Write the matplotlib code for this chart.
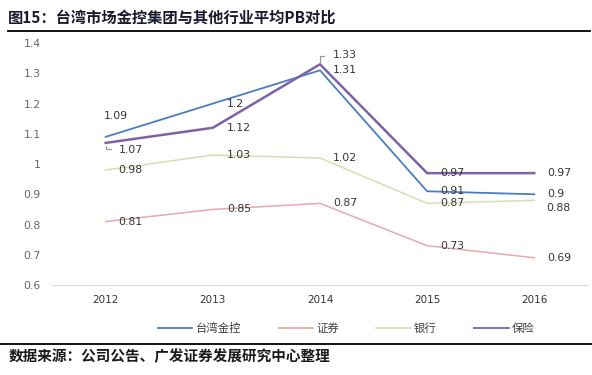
import matplotlib
matplotlib.use('Agg')
import matplotlib.pyplot as plt
from matplotlib.lines import Line2D

plt.rcParams['font.family'] = ['Noto Sans CJK SC', 'DejaVu Sans']

years = ['2012', '2013', '2014', '2015', '2016']
taiwan_fh = [1.09, 1.20, 1.31, 0.91, 0.90]
securities = [0.81, 0.85, 0.87, 0.73, 0.69]
banks = [0.98, 1.03, 1.02, 0.87, 0.88]
insurance = [1.07, 1.12, 1.33, 0.97, 0.97]
series_names = ['台湾金控', '证券', '银行', '保险']
y_ticks = [0.6, 0.7, 0.8, 0.9, 1.0, 1.1, 1.2, 1.3, 1.4]
y_tick_labels = ['0.6', '0.7', '0.8', '0.9', '1', '1.1', '1.2', '1.3', '1.4']

colors = ['#4a7ebb', '#e8a9a9', '#d3e1b2', '#7f62a6']
widths = [1.3, 1.1, 1.1, 1.8]

fig = plt.figure(figsize=(5.92, 3.75), dpi=100)
ax = fig.add_axes([0.088, 0.24, 0.905, 0.645])

x = list(range(len(years)))
all_series = [taiwan_fh, securities, banks, insurance]
for vals, name, c, lw in zip(all_series, series_names, colors, widths):
    ax.plot(x, vals, color=c, lw=lw, label=name, solid_joinstyle='miter')

# label offsets in pixels (default: right of point)
special = {
    (0, 0): (-2, 21),
    (3, 0): (13, -7),
    (3, 2): (13, 9),
    (2, 4): (12, -8),
}
for si, vals in enumerate(all_series):
    for i, v in enumerate(vals):
        dx, dy = special.get((si, i), (13 if i != 1 else 14, 0))
        txt = ('%.2f' % v).rstrip('0').rstrip('.')
        ax.annotate(txt, (i, v), xytext=(dx, dy), textcoords='offset pixels',
                    ha='left', va='center', fontsize=7.8, color='#333333',
                    family='DejaVu Sans')

# leader lines for crowded labels
ax.annotate('', (0, 1.07), xytext=(8, -6), textcoords='offset pixels',
            arrowprops=dict(arrowstyle='-', color='#999999', lw=0.9,
                            connectionstyle='angle,angleA=0,angleB=90,rad=0'))
ax.annotate('', (2, 1.33), xytext=(7, 8), textcoords='offset pixels',
            arrowprops=dict(arrowstyle='-', color='#999999', lw=0.9,
                            connectionstyle='angle,angleA=0,angleB=90,rad=0'))

ax.set_xlim(-0.5, 4.5)
ax.set_ylim(0.6, 1.4)
ax.set_xticks(x)
ax.set_xticklabels(years, fontsize=7.5, color='#333333', family='DejaVu Sans')
ax.set_yticks(y_ticks)
ax.set_yticklabels(y_tick_labels, fontsize=7.8, color='#666666', family='DejaVu Sans')
ax.tick_params(length=0, pad=8)
ax.tick_params(axis='x', pad=7)
for s in ['top', 'right', 'left']:
    ax.spines[s].set_visible(False)
ax.spines['bottom'].set_color('#d9d9d9')

handles = [Line2D([0], [0], color=c, lw=1.3) for c in colors]
fig.legend(handles, series_names, loc='center', bbox_to_anchor=(0.585, 0.123),
           ncol=4, frameon=False, fontsize=8.2, handlelength=3.0,
           handletextpad=0.3, columnspacing=3.3, labelcolor='#404040')

fig.text(0.014, 0.952, '图15：台湾市场金控集团与其他行业平均PB对比', fontsize=11,
         fontweight='bold', color='#1a1a2e', va='center')
fig.add_artist(Line2D([0.014, 0.997], [0.918, 0.918], color='black', lw=1.3,
                      transform=fig.transFigure))
fig.add_artist(Line2D([0.0, 1.0], [0.083, 0.083], color='black', lw=1.3,
                      transform=fig.transFigure))
fig.text(0.014, 0.05, '数据来源：公司公告、广发证券发展研究中心整理', fontsize=10.5,
         fontweight='bold', color='#1a1a1a', va='center')

fig.savefig('out.png', dpi=100)
